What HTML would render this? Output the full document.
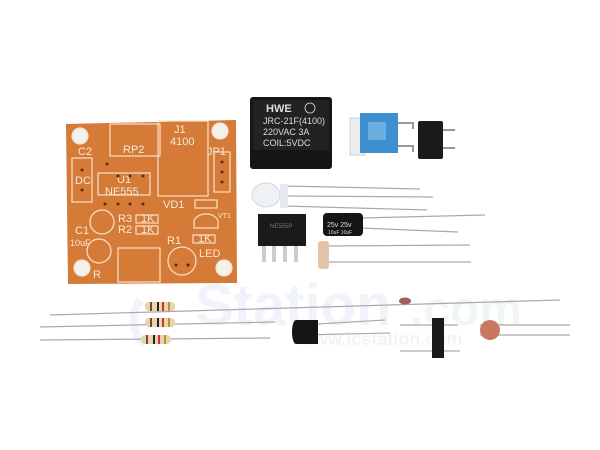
<!DOCTYPE html>
<html><head><meta charset="utf-8"><style>
html,body{margin:0;padding:0;background:#fff;width:600px;height:450px;overflow:hidden}
svg{display:block}
text{font-family:"Liberation Sans",sans-serif}
</style></head><body>
<svg width="600" height="450" viewBox="0 0 600 450">
<rect width="600" height="450" fill="#fff"/>
<!-- watermark -->
<text x="195" y="325" font-size="58" font-weight="bold" fill="#f0f4fa" font-family="Liberation Serif">Station</text>
<text x="410" y="325" font-size="48" font-weight="bold" fill="#f0f7f0" font-family="Liberation Serif">.com</text>
<text x="300" y="345" font-size="18" font-weight="bold" fill="#f2f3f5" font-family="Liberation Serif">www.icstation.com</text>
<path d="M140 300 q-15 25 5 45" stroke="#f0f4fa" stroke-width="8" fill="none"/>

<!-- PCB -->
<g>
<polygon points="66,124 236,120 237,283 68,284" fill="#d67a38"/>
<g fill="none" stroke="#f6e2cc" stroke-width="1.2">
<circle cx="80" cy="136" r="8" fill="#f4f0ea"/>
<circle cx="220" cy="131" r="8" fill="#f4f0ea"/>
<circle cx="82" cy="268" r="8" fill="#f4f0ea"/>
<circle cx="224" cy="268" r="8" fill="#f4f0ea"/>
<rect x="110" y="124" width="50" height="32"/>
<rect x="158" y="121" width="50" height="75"/>
<rect x="72" y="158" width="20" height="44"/>
<rect x="98" y="173" width="52" height="22"/>
<rect x="214" y="152" width="16" height="40"/>
<rect x="118" y="248" width="42" height="34"/>
<circle cx="102" cy="222" r="12"/>
<circle cx="99" cy="251" r="12"/>
<circle cx="182" cy="261" r="14"/>
<path d="M194 222 a12 8 0 0 1 24 0 l0 6 h-24z"/>
<rect x="136" y="215" width="22" height="8"/>
<rect x="136" y="226" width="22" height="8"/>
<rect x="193" y="235" width="22" height="8"/>
<rect x="195" y="200" width="22" height="8"/>
</g>
<g fill="#f4ead8" font-size="11">
<text x="78" y="155">C2</text><text x="123" y="153">RP2</text>
<text x="174" y="133">J1</text><text x="170" y="145">4100</text>
<text x="207" y="155">JP1</text><text x="75" y="184">DC</text>
<text x="117" y="183">U1</text><text x="105" y="195">NE555</text>
<text x="163" y="208">VD1</text><text x="118" y="222">R3</text>
<text x="141" y="222">1K</text><text x="118" y="233">R2</text>
<text x="141" y="233">1K</text><text x="75" y="234">C1</text>
<text x="70" y="246" font-size="9">10uF</text><text x="167" y="244">R1</text>
<text x="198" y="242">1K</text><text x="199" y="257">LED</text>
<text x="93" y="278">R</text><text x="218" y="218" font-size="7">VT1</text>
</g>
<g fill="#5a2a10">
<circle cx="107" cy="164" r="1.5"/><circle cx="118" cy="176" r="1.5"/><circle cx="130" cy="176" r="1.5"/><circle cx="143" cy="176" r="1.5"/>
<circle cx="118" cy="204" r="1.5"/><circle cx="130" cy="204" r="1.5"/><circle cx="143" cy="204" r="1.5"/><circle cx="105" cy="204" r="1.5"/>
<circle cx="222" cy="162" r="1.5"/><circle cx="222" cy="172" r="1.5"/><circle cx="222" cy="182" r="1.5"/>
<circle cx="82" cy="170" r="1.5"/><circle cx="82" cy="190" r="1.5"/>
<circle cx="176" cy="265" r="1.5"/><circle cx="188" cy="265" r="1.5"/>
</g>
</g>

<!-- relay -->
<rect x="250" y="97" width="82" height="72" rx="3" fill="#151515"/>
<rect x="253" y="100" width="76" height="50" fill="#222"/>
<g fill="#ddd" font-size="9">
<text x="266" y="112" font-family="Liberation Serif" font-weight="bold" font-size="11">HWE</text>
<text x="263" y="124">JRC-21F(4100)</text>
<text x="263" y="135">220VAC  3A</text>
<text x="263" y="146">COIL:5VDC</text>
</g>
<circle cx="310" cy="108" r="5" fill="none" stroke="#ddd" stroke-width="0.8"/>

<!-- pot -->
<path d="M398 123 h15 v6 M398 146 h15 v6" stroke="#999" stroke-width="2" fill="none"/>
<rect x="350" y="118" width="15" height="37" fill="#eee" stroke="#ccc"/>
<rect x="360" y="113" width="38" height="40" fill="#3d8fd0"/>
<rect x="368" y="122" width="18" height="18" fill="#6aaee0"/>
<!-- button -->
<path d="M440 130 h15 M440 148 h15" stroke="#999" stroke-width="2"/>
<rect x="418" y="121" width="25" height="38" rx="2" fill="#1b1b1b"/>

<!-- leads -->
<g stroke="#aaa" stroke-width="1.2">
<line x1="285" y1="186" x2="420" y2="189"/><line x1="285" y1="196" x2="433" y2="197"/><line x1="285" y1="206" x2="427" y2="210"/>
<line x1="360" y1="218" x2="485" y2="215"/><line x1="360" y1="228" x2="458" y2="232"/>
<line x1="328" y1="246" x2="470" y2="245"/><line x1="328" y1="262" x2="471" y2="262"/>
<line x1="50" y1="315" x2="560" y2="300"/><line x1="40" y1="327" x2="275" y2="322"/><line x1="40" y1="340" x2="270" y2="338"/>
<line x1="300" y1="325" x2="385" y2="320"/><line x1="300" y1="335" x2="390" y2="333"/>
<line x1="400" y1="325" x2="458" y2="325"/><line x1="400" y1="351" x2="460" y2="351"/>
<line x1="480" y1="325" x2="570" y2="325"/><line x1="480" y1="335" x2="570" y2="335"/>
</g>
<ellipse cx="266" cy="195" rx="14" ry="12" fill="#eef2f5" stroke="#cfd6dc"/>
<rect x="280" y="184" width="8" height="24" fill="#e4eaef"/>

<!-- IC -->
<rect x="258" y="214" width="48" height="32" fill="#1a1a1a"/>
<g fill="#ccc"><rect x="262" y="246" width="4" height="16"/><rect x="272" y="246" width="4" height="16"/><rect x="283" y="246" width="4" height="16"/><rect x="294" y="246" width="4" height="16"/></g>
<text x="270" y="228" fill="#777" font-size="6">NE555P</text>

<!-- electrolytic -->
<rect x="323" y="213" width="40" height="23" rx="4" fill="#151515"/>
<text x="327" y="227" fill="#ddd" font-size="7">25v 25v</text>
<text x="328" y="234" fill="#ddd" font-size="5">10uF 10uF</text>

<!-- LDR -->
<rect x="318" y="241" width="11" height="28" rx="3" fill="#e4c4a8"/>

<!-- resistors -->
<g>
<rect x="145" y="302" width="30" height="9" rx="4" fill="#e8d4b0"/>
<rect x="150" y="302" width="2" height="9" fill="#7a4a2a"/><rect x="157" y="302" width="2" height="9" fill="#222"/><rect x="162" y="302" width="2" height="9" fill="#c33"/><rect x="168" y="302" width="2" height="9" fill="#b8942a"/>
<rect x="145" y="318" width="30" height="9" rx="4" fill="#e8d4b0"/>
<rect x="150" y="318" width="2" height="9" fill="#7a4a2a"/><rect x="157" y="318" width="2" height="9" fill="#222"/><rect x="162" y="318" width="2" height="9" fill="#c33"/><rect x="168" y="318" width="2" height="9" fill="#b8942a"/>
<rect x="141" y="335" width="30" height="9" rx="4" fill="#e8d4b0"/>
<rect x="146" y="335" width="2" height="9" fill="#7a4a2a"/><rect x="153" y="335" width="2" height="9" fill="#222"/><rect x="158" y="335" width="2" height="9" fill="#c33"/><rect x="164" y="335" width="2" height="9" fill="#b8942a"/>
</g>
<!-- diode -->
<ellipse cx="405" cy="301" rx="6" ry="3.5" fill="#a0605a"/>
<!-- transistor -->
<path d="M296 320 h22 v24 h-22 a4 12 0 0 1 0 -24z" fill="#151515"/>
<!-- header -->
<rect x="432" y="318" width="12" height="40" fill="#1a1a1a"/>
<!-- ceramic -->
<circle cx="490" cy="330" r="10" fill="#c87860"/>
</svg>
</body></html>
